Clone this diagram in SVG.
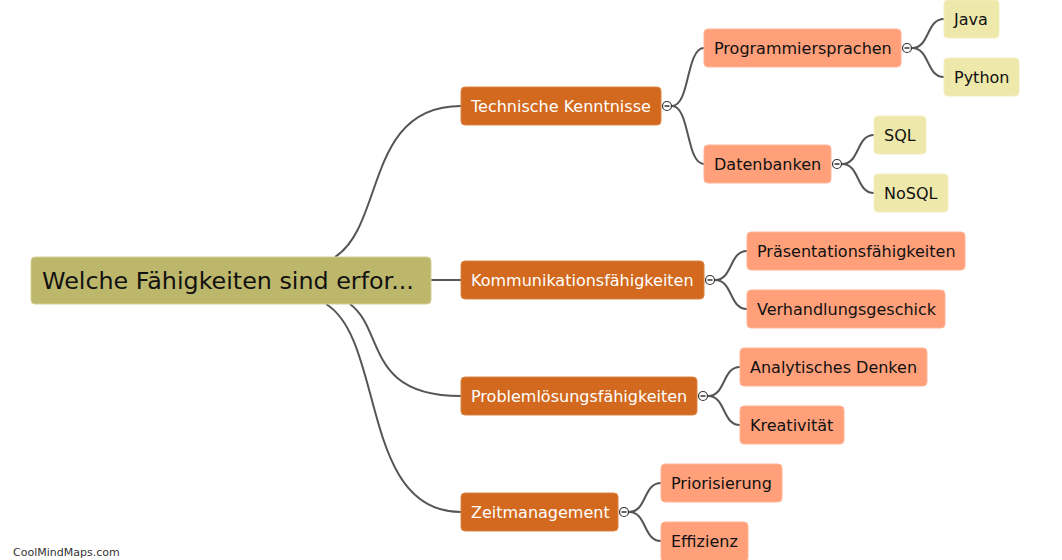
<svg xmlns="http://www.w3.org/2000/svg" width="1062" height="560" viewBox="0 0 1062 560">
<style>
text{font-family:"DejaVu Sans","Verdana",sans-serif;font-size:16px;fill:#111}
.root rect{fill:#bdb76b;stroke:#d4cf94;stroke-width:1}
.root text{font-size:23.8px;fill:#111}
.l1 rect{fill:#d2691e;stroke:#dc8444;stroke-width:1}
.l1 text{fill:#fff}
.l2 rect{fill:#ffa07a;stroke:#ffb596;stroke-width:1}
.l3 rect{fill:#eee8aa;stroke:#f3eec2;stroke-width:1}
.conn path{fill:none;stroke:#555;stroke-width:2}
.tog circle{fill:#fff;stroke:#333;stroke-width:1.2}
.tog line{stroke:#333;stroke-width:1.5}
.wm{font-size:11px;fill:#333}
</style>
<g id="connectors" class="conn">
<path d="M335,257 C385,225 365,106 461,106"/>
<path d="M431,280 L461,280"/>
<path d="M350,304 C385,330 365,396 461,396"/>
<path d="M326,304 C385,340 360,512 461,512"/>
<path d="M672,106 C690,106 686,48 704,48"/>
<path d="M672,106 C690,106 686,164 704,164"/>
<path d="M912,48 C930,48 926,19 944,19"/>
<path d="M912,48 C930,48 926,77 944,77"/>
<path d="M842,164 C860,164 856,135 874,135"/>
<path d="M842,164 C860,164 856,193 874,193"/>
<path d="M715,280 C733,280 729,251 747,251"/>
<path d="M715,280 C733,280 729,309 747,309"/>
<path d="M708,396 C726,396 722,367 740,367"/>
<path d="M708,396 C726,396 722,425 740,425"/>
<path d="M629,512 C647,512 643,483 661,483"/>
<path d="M629,512 C647,512 643,541 661,541"/>
</g>
<g id="toggles" class="tog">
<g><circle cx="667" cy="106" r="4.5"/><line x1="664.5" y1="106" x2="669.5" y2="106"/></g>
<g><circle cx="907" cy="48" r="4.5"/><line x1="904.5" y1="48" x2="909.5" y2="48"/></g>
<g><circle cx="837" cy="164" r="4.5"/><line x1="834.5" y1="164" x2="839.5" y2="164"/></g>
<g><circle cx="710" cy="280" r="4.5"/><line x1="707.5" y1="280" x2="712.5" y2="280"/></g>
<g><circle cx="703" cy="396" r="4.5"/><line x1="700.5" y1="396" x2="705.5" y2="396"/></g>
<g><circle cx="624" cy="512" r="4.5"/><line x1="621.5" y1="512" x2="626.5" y2="512"/></g>
</g>
<g id="root" class="root"><rect x="31" y="257" width="400" height="47" rx="4"/><text x="42" y="289">Welche Fähigkeiten sind erfor...</text></g>
<g id="technische" class="l1"><rect x="461" y="87" width="200" height="38" rx="4"/><text x="471" y="111.5">Technische Kenntnisse</text></g>
<g id="programmiersprachen" class="l2"><rect x="704" y="29" width="197" height="38" rx="4"/><text x="714" y="53.5">Programmiersprachen</text></g>
<g id="java" class="l3"><rect x="944" y="0" width="55" height="38" rx="4"/><text x="954" y="24.5">Java</text></g>
<g id="python" class="l3"><rect x="944" y="58" width="75" height="38" rx="4"/><text x="954" y="82.5">Python</text></g>
<g id="datenbanken" class="l2"><rect x="704" y="145" width="127" height="38" rx="4"/><text x="714" y="169.5">Datenbanken</text></g>
<g id="sql" class="l3"><rect x="874" y="116" width="52" height="38" rx="4"/><text x="884" y="140.5">SQL</text></g>
<g id="nosql" class="l3"><rect x="874" y="174" width="74" height="38" rx="4"/><text x="884" y="198.5">NoSQL</text></g>
<g id="kommunikation" class="l1"><rect x="461" y="261" width="243" height="38" rx="4"/><text x="471" y="285.5">Kommunikationsfähigkeiten</text></g>
<g id="praesentation" class="l2"><rect x="747" y="232" width="218" height="38" rx="4"/><text x="757" y="256.5">Präsentationsfähigkeiten</text></g>
<g id="verhandlung" class="l2"><rect x="747" y="290" width="198" height="38" rx="4"/><text x="757" y="314.5">Verhandlungsgeschick</text></g>
<g id="problemloesung" class="l1"><rect x="461" y="377" width="236" height="38" rx="4"/><text x="471" y="401.5">Problemlösungsfähigkeiten</text></g>
<g id="analytisch" class="l2"><rect x="740" y="348" width="187" height="38" rx="4"/><text x="750" y="372.5">Analytisches Denken</text></g>
<g id="kreativitaet" class="l2"><rect x="740" y="406" width="104" height="38" rx="4"/><text x="750" y="430.5">Kreativität</text></g>
<g id="zeitmanagement" class="l1"><rect x="461" y="493" width="157" height="38" rx="4"/><text x="471" y="517.5">Zeitmanagement</text></g>
<g id="priorisierung" class="l2"><rect x="661" y="464" width="121" height="38" rx="4"/><text x="671" y="488.5">Priorisierung</text></g>
<g id="effizienz" class="l2"><rect x="661" y="522" width="87" height="40" rx="4"/><text x="671" y="546.5">Effizienz</text></g>
<text class="wm" x="13" y="556">CoolMindMaps.com</text>
</svg>
